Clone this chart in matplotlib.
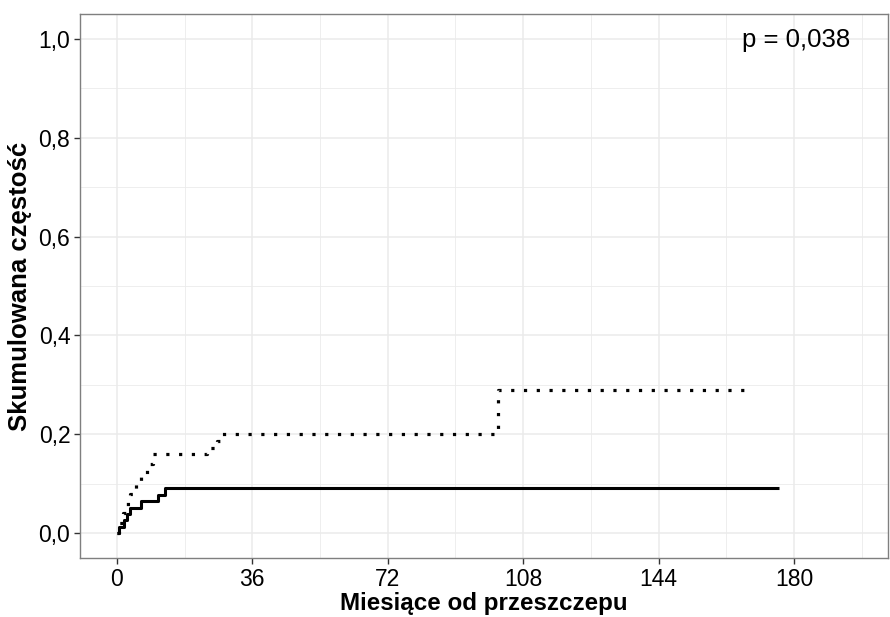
import matplotlib.pyplot as plt
from matplotlib.ticker import MultipleLocator, FuncFormatter

# cumulative incidence, solid group (months, value)
solid_t = [0, 0.5, 2.0, 2.8, 3.5, 6.5, 11.0, 12.8, 176]
solid_y = [0, 0.013, 0.026, 0.039, 0.052, 0.065, 0.078, 0.091, 0.091]

# cumulative incidence, dotted group
dotted_t = [0, 0.5, 1.5, 2.5, 3.5, 5.0, 6.5, 8.0, 9.5, 24.0, 26.5, 28.0, 101.4, 167]
dotted_y = [0, 0.02, 0.04, 0.06, 0.08, 0.10, 0.12, 0.14, 0.16, 0.173, 0.187, 0.20, 0.29, 0.29]

x_ticks = [0, 36, 72, 108, 144, 180]
y_ticks = [0.0, 0.2, 0.4, 0.6, 0.8, 1.0]
p_text = "p = 0,038"

plt.rcParams['font.family'] = ['Liberation Sans', 'DejaVu Sans']

fig = plt.figure(figsize=(8.9, 6.17), dpi=100)
ax = fig.add_axes([80 / 890, 59 / 617, 808 / 890, 544 / 617])

ax.step(solid_t, solid_y, where='post', color='black', lw=2.2, solid_capstyle='butt')
ax.step(dotted_t, dotted_y, where='post', color='black', lw=2.3,
        linestyle=(0, (1, 3)), dash_capstyle='butt')

ax.set_xlim(-9.8, 205)
ax.set_ylim(-0.05, 1.05)
ax.set_xticks(x_ticks)
ax.set_yticks(y_ticks)
ax.xaxis.set_minor_locator(MultipleLocator(18))
ax.yaxis.set_minor_locator(MultipleLocator(0.1))
ax.yaxis.set_major_formatter(FuncFormatter(lambda v, _: f"{v:.1f}".replace('.', ',')))

ax.grid(which='major', color='#ebebeb', lw=1.1)
ax.grid(which='minor', color='#ebebeb', lw=0.6)
ax.set_axisbelow(True)
ax.tick_params(which='minor', length=0)
ax.tick_params(which='major', length=4, width=1, color='#333333',
               labelsize=16.5, labelcolor='black', pad=3)
for s in ax.spines.values():
    s.set_color('#7f7f7f')
    s.set_linewidth(1)

ax.set_xlabel("Miesiące od przeszczepu", fontsize=17.4, fontweight='bold', labelpad=1)
ax.set_ylabel("Skumulowana częstość", fontsize=18.5, fontweight='bold', labelpad=5)

ax.text(180.5, 0.998, p_text, fontsize=18.5, ha='center', va='center')

fig.savefig("out.png", dpi=100)
